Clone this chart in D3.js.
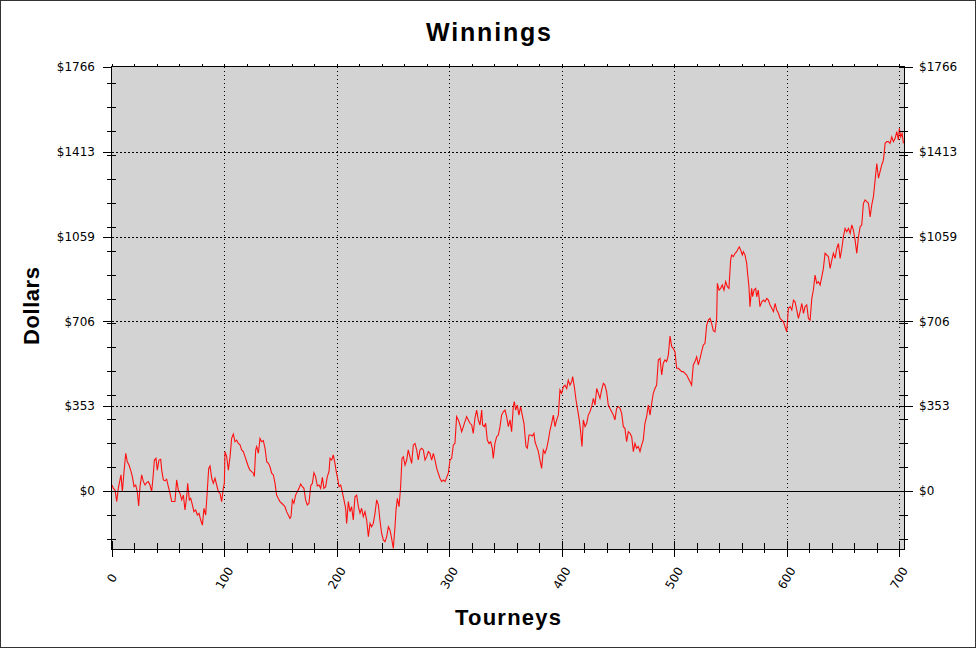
<!DOCTYPE html>
<html><head><meta charset="utf-8">
<script src="https://cdn.jsdelivr.net/npm/d3@7"></script>
<style>html,body{margin:0;padding:0;background:#fff}svg{display:block}</style>
</head><body>
<svg id="chart" width="977" height="649"></svg>
<script>
const titleText = "Winnings";
const xTitle = "Tourneys";
const yTitle = "Dollars";
const yMajorTicks = [0, 353, 706, 1059, 1413, 1766];
const yTickLabels = ["$0", "$353", "$706", "$1059", "$1413", "$1766"];
const xMajorTicks = [0, 100, 200, 300, 400, 500, 600, 700];
const xTickLabels = ["0", "100", "200", "300", "400", "500", "600", "700"];
const tourneys = [0,1.2,2.7,4.2,5.6,7.1,8.0,9.2,10.7,12.2,13.6,15.1,16.6,18.1,19.6,21.1,22.5,23.7,24.9,26.4,27.9,29.4,30.8,32.3,33.8,35.3,36.8,37.7,39.1,40.3,41.8,43.3,44.2,45.7,47.1,48.6,50.1,51.6,53.1,54.6,56.0,57.5,59.0,60.5,62.0,63.5,64.9,66.4,67.3,68.8,70.0,71.5,72.9,74.4,75.9,77.4,78.9,80.4,81.8,83.3,84.5,86.0,87.2,88.7,90.1,91.6,93.1,94.6,96.1,97.5,99.0,99.9,100.5,102.0,103.5,105.0,106.4,107.9,109.4,110.9,112.4,113.9,115.3,116.8,118.3,119.8,121.3,122.7,124.2,125.7,126.6,127.8,128.7,130.2,131.6,133.1,134.6,136.1,137.6,139.1,140.5,
142.0,143.5,145,146.4,147.9,149.4,150.9,152.4,153.8,155.3,156.8,158.3,159.2,160.4,161.8,163.3,164.8,166.3,167.8,169.3,170.7,172.2,173.7,175.2,176.7,178.2,179.6,181.1,182.6,184.1,185.6,187.1,188.5,190.0,191.5,193.0,193.9,195.4,196.8,198.3,199.2,200.4,201.9,203.4,204.8,206.3,207.8,208.7,210.2,211.7,213.1,214.6,216.1,217.6,219.1,220.6,222.0,223.5,225.0,226.5,228,229.5,230.9,232.4,233.9,235.4,236.9,238.3,239.8,241.3,242.8,244.3,245.8,247.2,248.7,250.2,251.7,252.6,253.8,255.3,256.7,257.9,259.1,260.6,262.1,263.5,265,266.5,268,269.5,271.0,272.4,273.9,275.4,276.9,278.4,279.9,281.3,282.8,284.3,285.8,287.3,288.8,290.2,291.7,293.2,294.7,296.2,
299.1,300.6,302.1,303.6,305.0,306.5,308,309.5,311,312.5,313.9,315.4,316.9,318.4,319.9,321.3,322.8,324.3,325.8,327.3,328.8,329.6,331.1,332.3,333.8,335.3,336.8,338.2,339.1,340.6,342.1,343.6,345.1,346.5,348.0,349.5,351.0,352.5,354.0,355.4,356.9,357.8,359.0,360.5,361.9,363.4,364.9,366.4,367.3,368.2,369.4,370.9,372.4,373.8,375.3,376.2,377.7,379.2,380.6,382.1,383.6,385.1,386.6,388.1,389.6,391.0,392.5,394.0,395.5,397.0,398.4,399.9,401.4,402.9,404.4,405.8,407.3,408.8,409.7,411.2,412.7,414.2,415.6,416.8,418.0,419.2,420.7,422.2,423.6,425.1,426.6,428.1,429.6,431.1,432.5,
434,435.5,437,438.4,439.9,441.4,442.9,444.4,445.9,447.3,448.8,450.3,451.8,453.3,454.8,456.2,457.7,459.2,460.7,462.2,463.7,465.1,466.6,468.1,469.6,471.1,472.5,474.0,475.5,477.0,478.5,480.0,481.4,482.9,484.4,485.9,487.4,488.9,490.3,491.8,493.3,494.8,496.3,497.8,499.2,500.7,502.2,503.7,505.2,506.6,508.1,509.6,511.1,512.6,514.1,515.5,517.0,518.5,520.0,521.5,523.0,524.4,525.9,527.4,528.9,530.4,531.9,533.3,534.8,536.3,537.8,
538.4,539.9,541.3,542.8,544.3,545.8,547.3,548.7,550.2,551.1,552.6,554.1,555.6,557.0,557.9,559.1,560.6,561.5,563.0,564.5,565.3,566.5,567.4,568.9,569.8,571.0,572.5,573.4,574.8,576.3,
577.9,579.4,580.8,582.3,583.8,585.3,586.8,588.3,589.7,591.2,592.7,594.2,595.7,597.2,598.6,600.1,601.6,603.1,604.6,606.1,607.5,609.0,610.5,612.0,613.5,615.0,616.4,617.9,619.4,620.9,622.4,623.8,625.3,626.8,628.3,629.8,631.3,632.7,634.2,635.7,637.2,638.7,640.2,641.6,643.1,644.6,646.1,647.6,649.1,650.5,652.0,653.5,655.0,656.5,658.0,659.4,660.9,662.4,663.9,665.4,666.8,668.3,669.8,671.3,672.8,674.3,675.7,677.2,678.7,680.2,681.7,683.1,684.6,686.1,687.6,689.1,690.6,692.0,693.5,695.0,696.5,698.0,699.4,700.3,701.5,702.7,703.9];
const winnings = [25,11,4,-44,11,46,67,-3,80,157,122,108,87,60,18,25,-3,-62,18,67,39,25,35,39,25,-3,74,129,136,87,129,132,87,46,42,49,18,-10,-44,-44,-44,46,4,-10,-37,-17,-79,-24,32,-37,-31,-58,-86,-79,-100,-93,-121,-142,-72,-100,-17,94,104,53,32,53,25,-3,-10,-44,11,32,164,143,87,143,219,237,205,212,198,192,171,164,143,122,101,87,81,74,60,171,185,157,219,205,210,178,122,115,101,
74,67,32,-17,-31,-44,-51,-58,-65,-86,-100,-114,-107,-37,-51,-17,-3,11,29,18,11,-37,-58,-51,21,32,76,60,21,25,11,57,11,18,60,81,136,129,150,115,87,60,18,25,-3,-37,-72,-135,-44,-86,-65,-121,-24,-17,-65,-93,-72,-107,-86,-121,-190,-135,-149,-135,-93,-37,-58,-121,-176,-204,-211,-190,-149,-162,-197,-239,-149,-79,-31,-65,18,136,143,108,129,171,143,115,192,198,171,129,171,178,171,129,143,164,157,129,157,129,94,74,53,39,46,39,
74,129,136,192,198,310,296,275,247,268,289,310,296,282,275,240,303,337,296,275,337,275,268,282,212,198,205,178,136,198,226,233,268,316,330,337,310,268,296,247,351,372,337,358,316,351,316,282,233,185,178,233,233,229,240,205,185,164,129,94,171,157,178,212,254,282,316,268,296,316,421,407,434,441,427,462,441,455,476,434,379,337,296,247,185,296,268,282,316,330,351,386,358,427,407,
386,421,448,441,414,358,344,330,316,296,344,351,344,323,268,261,205,247,240,226,164,198,178,185,164,192,212,282,310,358,316,365,407,427,441,546,552,483,532,546,539,566,645,601,594,580,511,511,504,497,497,490,483,469,455,441,525,539,559,525,552,580,608,615,691,712,719,698,668,663,719,
865,837,844,858,837,872,851,844,962,983,976,990,997,1010,1017,1004,983,997,983,948,906,851,768,844,809,837,844,809,837,768,
788,795,788,802,795,775,761,747,781,754,740,719,712,705,684,663,761,768,754,795,788,754,719,747,781,740,768,775,719,712,802,837,899,865,872,858,893,927,990,983,976,927,962,990,969,1010,1031,969,1010,1059,1094,1080,1094,1073,1108,1087,1045,990,1059,1101,1108,1198,1212,1205,1198,1142,1191,1226,1295,1364,1303,1330,1358,1378,1448,1455,1455,1448,1475,1455,1469,1497,1462,1511,1475,1489,1448];

const svg = d3.select("#chart");
const L = 112, R = 904, T = 67, B = 549;
const x = d3.scaleLinear().domain([0, 704.4]).range([L, R]);
const y = d3.scaleLinear().domain([-241.6, 1766]).range([B, T]);
const cx = v => Math.round(x(v)) + 0.5;
const cy = v => Math.round(y(v)) + 0.5;

// outer frame
svg.append("rect").attr("x", 0.5).attr("y", 0.5).attr("width", 975).attr("height", 647)
  .attr("fill", "#fff").attr("stroke", "#333");

// plot background
svg.append("rect").attr("x", L).attr("y", T).attr("width", R - L).attr("height", B - T).attr("fill", "#d3d3d3");

// grid
const g = svg.append("g");
yMajorTicks.filter(v => v !== 0 && v !== 1766).forEach(v => {
  g.append("line").attr("x1", L).attr("x2", R).attr("y1", cy(v)).attr("y2", cy(v))
    .attr("stroke", "#000").attr("stroke-dasharray", "2,2");
});
xMajorTicks.filter(v => v !== 0).forEach(v => {
  g.append("line").attr("x1", cx(v)).attr("x2", cx(v)).attr("y1", T).attr("y2", B)
    .attr("stroke", "#000").attr("stroke-dasharray", "1,3");
});

// data line
const line = d3.line().x((d, i) => x(tourneys[i])).y(d => y(d));
svg.append("path").datum(winnings).attr("d", line)
  .attr("fill", "none").attr("stroke", "#ff1010").attr("stroke-width", 1.1);

// zero line
svg.append("line").attr("x1", L - 9).attr("x2", R + 9).attr("y1", cy(0)).attr("y2", cy(0)).attr("stroke", "#000");

// plot border
svg.append("rect").attr("x", L - 0.5).attr("y", T - 0.5).attr("width", R - L + 1).attr("height", B - T + 1)
  .attr("fill", "none").attr("stroke", "#000");

// minor y ticks (every 100)
const ax = svg.append("g").attr("stroke", "#000");
d3.range(-200, 1800, 100).forEach(v => {
  ax.append("line").attr("x1", L - 5).attr("x2", L + 4).attr("y1", cy(v)).attr("y2", cy(v));
  ax.append("line").attr("x1", R - 5).attr("x2", R + 4).attr("y1", cy(v)).attr("y2", cy(v));
});
yMajorTicks.forEach(v => {
  ax.append("line").attr("x1", L - 9).attr("x2", L).attr("y1", cy(v)).attr("y2", cy(v));
  ax.append("line").attr("x1", R - 5).attr("x2", R + 9).attr("y1", cy(v)).attr("y2", cy(v));
});
// x ticks
d3.range(0, 705, 20).forEach(v => {
  ax.append("line").attr("x1", cx(v)).attr("x2", cx(v)).attr("y1", B - 6).attr("y2", B + 4);
  ax.append("line").attr("x1", cx(v)).attr("x2", cx(v)).attr("y1", T - 3).attr("y2", T);
});
xMajorTicks.forEach(v => {
  ax.append("line").attr("x1", cx(v)).attr("x2", cx(v)).attr("y1", B - 8).attr("y2", B + 8);
});

// y labels
const font = "'DejaVu Sans', Verdana, sans-serif";
yMajorTicks.forEach((v, i) => {
  svg.append("text").attr("x", 95).attr("y", y(v)).attr("dy", "0.35em").attr("text-anchor", "end")
    .attr("font-family", font).attr("font-size", 12).attr("fill", "#000").text(yTickLabels[i]);
  svg.append("text").attr("x", 919).attr("y", y(v)).attr("dy", "0.35em").attr("text-anchor", "start")
    .attr("font-family", font).attr("font-size", 12).attr("fill", "#000").text(yTickLabels[i]);
});
// x labels
xMajorTicks.forEach((v, i) => {
  svg.append("text").attr("transform", `translate(${x(v)},578) rotate(-60)`)
    .attr("dy", "0.35em").attr("text-anchor", "middle")
    .attr("font-family", font).attr("font-size", 12).attr("fill", "#000").text(xTickLabels[i]);
});

// titles
const bold = "'Liberation Sans', Arial, sans-serif";
svg.append("text").attr("x", 488.5).attr("y", 41).attr("text-anchor", "middle")
  .attr("font-family", bold).attr("font-weight", "bold").attr("font-size", 25)
  .attr("textLength", 125).attr("lengthAdjust", "spacing").text(titleText);
svg.append("text").attr("x", 508).attr("y", 625).attr("text-anchor", "middle")
  .attr("font-family", bold).attr("font-weight", "bold").attr("font-size", 22)
  .attr("textLength", 106).attr("lengthAdjust", "spacing").text(xTitle);
svg.append("text").attr("transform", "translate(39,306) rotate(-90)").attr("text-anchor", "middle")
  .attr("font-family", bold).attr("font-weight", "bold").attr("font-size", 22)
  .attr("textLength", 78).attr("lengthAdjust", "spacing").text(yTitle);
</script>
</body></html>
